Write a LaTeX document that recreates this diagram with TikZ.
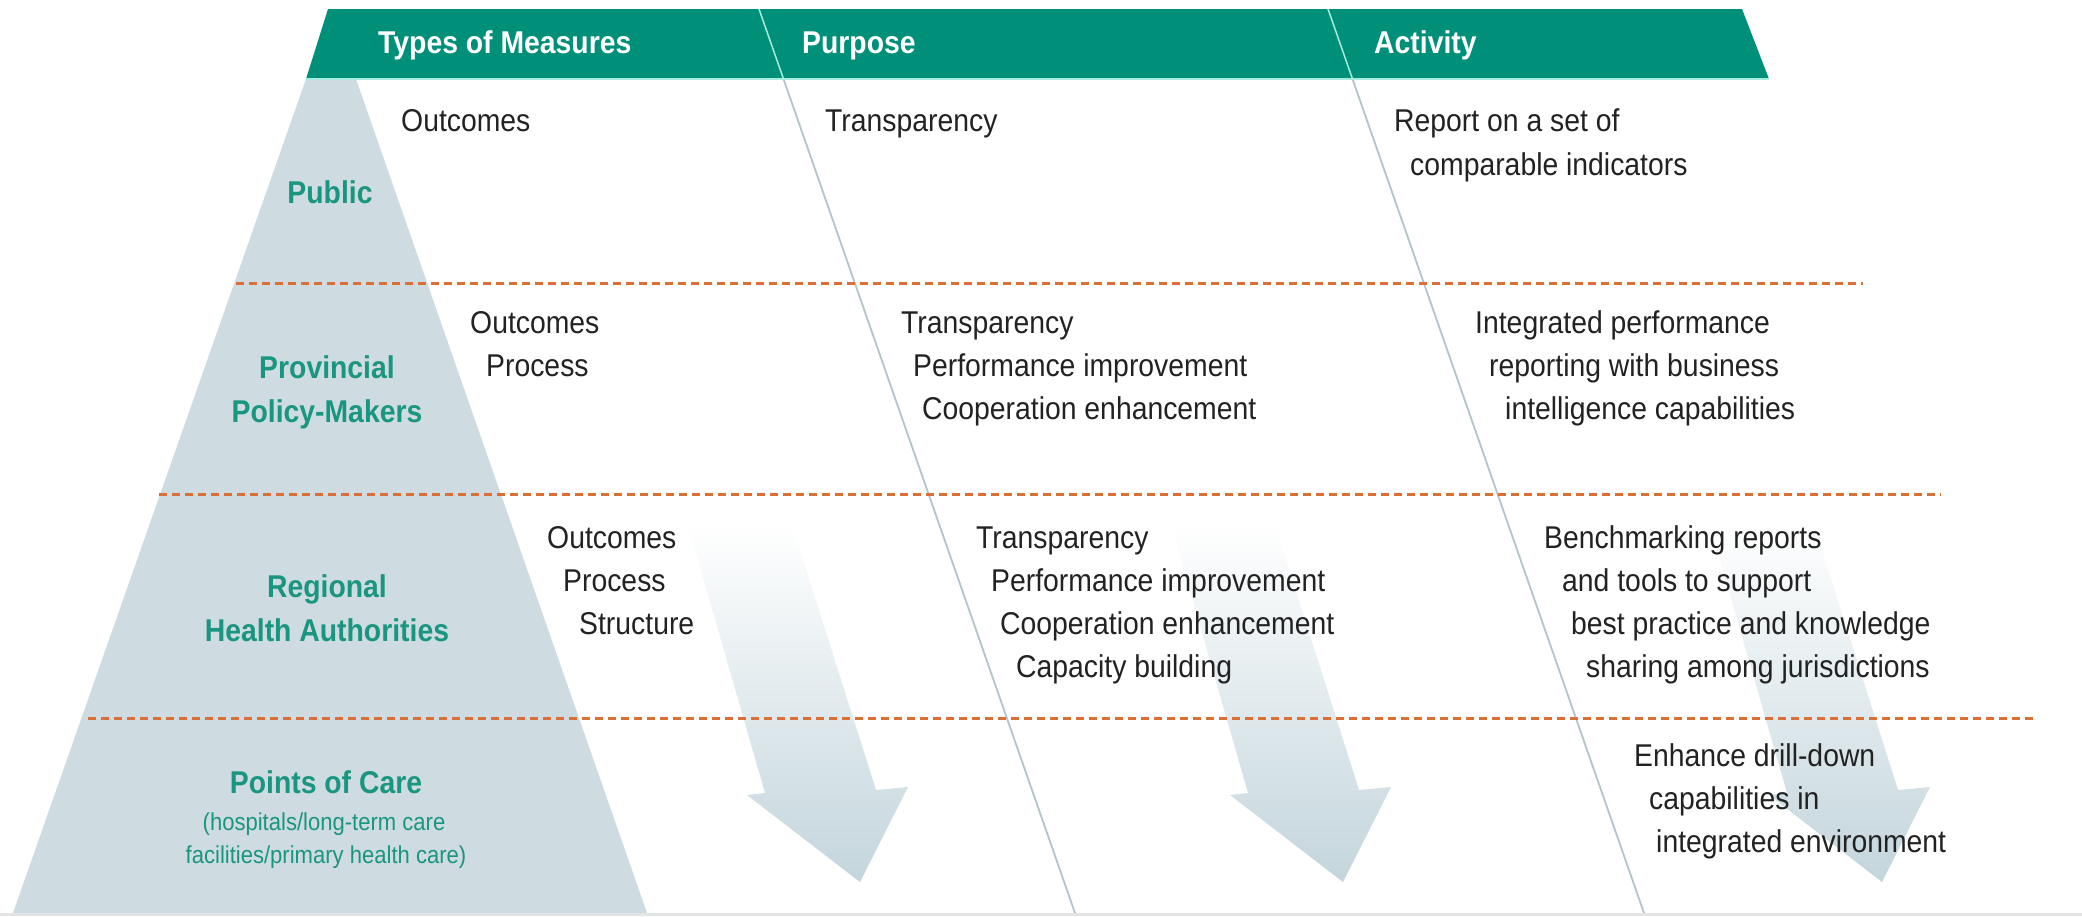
\documentclass[tikz,border=0pt]{standalone}
\usepackage{fontspec}
\usepackage{tikz}
\setmainfont{Liberation Sans}
\newfontfamily\diagfont[FakeStretch=0.9]{Liberation Sans}
\definecolor{bandgreen}{HTML}{00907A}
\definecolor{bandline}{HTML}{A6EDE0}
\definecolor{levelteal}{HTML}{1A957F}
\definecolor{pyramidgray}{HTML}{CEDCE2}
\definecolor{arrowgray}{HTML}{C3D5DC}
\definecolor{rulegray}{HTML}{B3C4CB}
\definecolor{dashorange}{HTML}{DA7038}
\definecolor{textdark}{HTML}{222222}
\newcommand\cellfont{\diagfont\fontsize{31.5}{44}\selectfont}
\newcommand\headfont{\diagfont\bfseries\fontsize{31.5}{44}\selectfont}
\newcommand\notefont{\diagfont\fontsize{24.5}{33}\selectfont}

\begin{document}
\begin{tikzpicture}[
        x=1pt, y=-1pt,
        cell/.style={anchor=base west, inner sep=0, font=\cellfont, text=textdark},
        head/.style={anchor=base west, inner sep=0, font=\headfont, text=white},
        level/.style={anchor=base, inner sep=0, font=\headfont, text=levelteal},
        note/.style={anchor=base, inner sep=0, font=\notefont, text=levelteal},
        rowrule/.style={draw=dashorange, line width=3pt, dash pattern=on 8pt off 5pt},
        colrule/.style={draw=rulegray, line width=1.8pt},
        arrowfill/.style={top color=white, bottom color=arrowgray}
    ]
    \useasboundingbox[fill=white] (0,0) rectangle (2082,916);

    % pyramid
    \fill[pyramidgray] (306,79) -- (356,79) -- (647,913) -- (13,913) -- cycle;
    \draw[draw=black!10, line width=3pt] (0,914) -- (2082,914);

    % downward arrows, one shape shifted
    \foreach \ax in {0,483,1022}
        \shade[arrowfill, shift={(\ax,0)}]
            (688,525) -- (792,525) -- (876,790) -- (908,787) -- (860,882)
            -- (747,795) -- (765,793) -- cycle;

    % column rules
    \coordinate (ruleAtop) at (759,9);
    \coordinate (ruleAmid) at (783.5,79);
    \coordinate (ruleAbot) at (1075,913);
    \coordinate (ruleBtop) at (1328,9);
    \coordinate (ruleBmid) at (1352.5,79);
    \coordinate (ruleBbot) at (1644,913);
    \draw[colrule] (ruleAmid) -- (ruleAbot);
    \draw[colrule] (ruleBmid) -- (ruleBbot);

    % row rules
    \draw[rowrule] (236,283) -- (1863,283);
    \draw[rowrule] (159,494) -- (1941,494);
    \draw[rowrule] (88,718) -- (2033,718);

    % header band
    \fill[bandgreen] (328,9) -- (1742,9) -- (1769,79) -- (306,79) -- cycle;
    \draw[bandline, line width=2pt] (306,79) -- (1769,79);
    \draw[bandline, line width=1.5pt] (ruleAtop) -- (ruleAmid);
    \draw[bandline, line width=1.5pt] (ruleBtop) -- (ruleBmid);
    \node[head] (hdrTypes)    at (378,53)  {Types of Measures};
    \node[head] (hdrPurpose)  at (802,53)  {Purpose};
    \node[head] (hdrActivity) at (1374,53) {Activity};

    % levels
    \node[level] (lvlPublic)   at (330,203) {Public};
    \node[level] (lvlProvA)    at (327,378) {Provincial};
    \node[level] (lvlProvB)    at (327,422) {Policy-Makers};
    \node[level] (lvlRegA)     at (327,597) {Regional};
    \node[level] (lvlRegB)     at (327,641) {Health Authorities};
    \node[level] (lvlCare)     at (326,793) {Points of Care};
    \node[note]  (lvlCareA)    at (324,830) {(hospitals/long-term care};
    \node[note]  (lvlCareB)    at (326,863) {facilities/primary health care)};

    % public
    \node[cell] (pubType)  at (401,131)  {Outcomes};
    \node[cell] (pubPurp)  at (825,131)  {Transparency};
    \node[cell] (pubActA)  at (1394,131) {Report on a set of};
    \node[cell] (pubActB)  at (1410,175) {comparable indicators};

    % provincial
    \node[cell] (prvTypeA) at (470,333)  {Outcomes};
    \node[cell] (prvTypeB) at (486,376)  {Process};
    \node[cell] (prvPurpA) at (901,333)  {Transparency};
    \node[cell] (prvPurpB) at (913,376)  {Performance improvement};
    \node[cell] (prvPurpC) at (922,419)  {Cooperation enhancement};
    \node[cell] (prvActA)  at (1475,333) {Integrated performance};
    \node[cell] (prvActB)  at (1489,376) {reporting with business};
    \node[cell] (prvActC)  at (1505,419) {intelligence capabilities};

    % regional
    \node[cell] (regTypeA) at (547,548)  {Outcomes};
    \node[cell] (regTypeB) at (563,591)  {Process};
    \node[cell] (regTypeC) at (579,634)  {Structure};
    \node[cell] (regPurpA) at (976,548)  {Transparency};
    \node[cell] (regPurpB) at (991,591)  {Performance improvement};
    \node[cell] (regPurpC) at (1000,634) {Cooperation enhancement};
    \node[cell] (regPurpD) at (1016,677) {Capacity building};
    \node[cell] (regActA)  at (1544,548) {Benchmarking reports};
    \node[cell] (regActB)  at (1562,591) {and tools to support};
    \node[cell] (regActC)  at (1571,634) {best practice and knowledge};
    \node[cell] (regActD)  at (1586,677) {sharing among jurisdictions};

    % points of care
    \node[cell] (pocActA)  at (1634,766) {Enhance drill-down};
    \node[cell] (pocActB)  at (1649,809) {capabilities in};
    \node[cell] (pocActC)  at (1656,852) {integrated environment};
\end{tikzpicture}
\end{document}
